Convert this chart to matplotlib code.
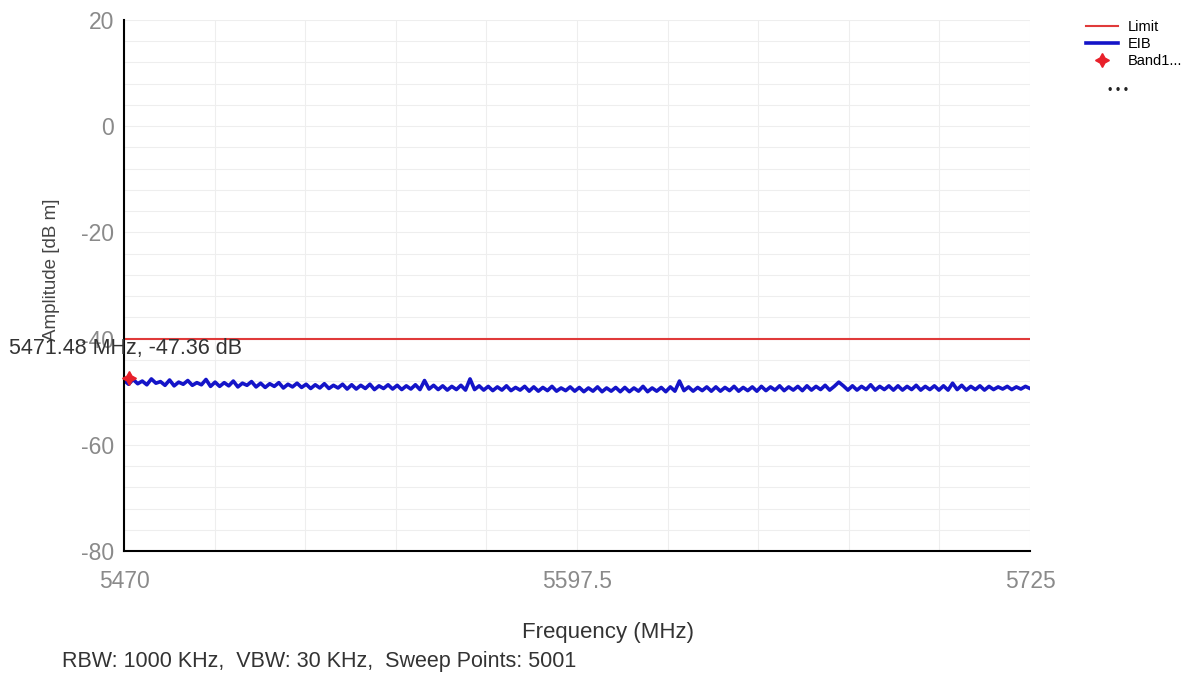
import numpy as np
import matplotlib
import matplotlib.pyplot as plt

matplotlib.rcParams['font.family'] = ['Liberation Sans', 'DejaVu Sans']
matplotlib.rcParams['axes.unicode_minus'] = False

# spectrum trace (dBm), evenly spaced over the span
f_start, f_stop = 5470, 5725
eib = [
    -47.9, -48.6, -47.7, -48.5, -48.0, -48.7, -47.6, -48.4, -48.1, -48.8,
    -47.8, -48.9, -48.2, -48.6, -47.9, -48.8, -48.3, -48.7, -47.7, -49.0,
    -48.2, -49.0, -48.3, -48.9, -48.0, -49.1, -48.4, -48.8, -48.1, -49.1,
    -48.4, -49.2, -48.5, -49.0, -48.3, -49.3, -48.6, -49.1, -48.4, -49.2,
    -48.6, -49.4, -48.7, -49.3, -48.5, -49.4, -48.8, -49.3, -48.6, -49.5,
    -48.7, -49.5, -48.8, -49.4, -48.6, -49.6, -48.9, -49.4, -48.7, -49.5,
    -48.8, -49.6, -48.9, -49.5, -48.7, -49.6, -47.9, -49.5, -48.8, -49.6,
    -48.9, -49.7, -49.0, -49.6, -48.8, -49.7, -47.6, -49.6, -48.9, -49.7,
    -49.0, -49.8, -49.1, -49.7, -48.9, -49.8, -49.2, -49.7, -49.0, -49.9,
    -49.1, -49.9, -49.2, -49.8, -49.0, -49.9, -49.3, -49.8, -49.1, -49.9,
    -49.2, -50.0, -49.3, -49.9, -49.1, -50.0, -49.3, -49.9, -49.2, -50.0,
    -49.2, -50.0, -49.3, -49.9, -49.0, -50.0, -49.3, -49.9, -49.2, -50.0,
    -49.1, -49.9, -48.0, -49.8, -49.1, -49.9, -49.2, -49.8, -49.1, -49.9,
    -49.1, -49.9, -49.2, -49.8, -49.0, -49.9, -49.2, -49.8, -49.1, -49.9,
    -49.0, -49.8, -49.1, -49.7, -48.9, -49.8, -49.1, -49.7, -49.0, -49.8,
    -48.9, -49.7, -49.0, -49.6, -48.8, -49.7, -49.0, -48.2, -48.9, -49.7,
    -48.9, -49.7, -49.0, -49.6, -48.7, -49.7, -49.0, -49.6, -48.9, -49.7,
    -48.9, -49.7, -49.0, -49.6, -48.8, -49.7, -49.0, -49.6, -48.9, -49.7,
    -48.9, -49.7, -48.4, -49.6, -48.8, -49.7, -49.0, -49.6, -48.9, -49.7,
    -49.0, -49.6, -49.1, -49.5, -49.0, -49.6, -49.1, -49.5, -49.0, -49.4,
]
limit = -40
marker_f, marker_a = 5471.48, -47.36
xticks = [5470, 5597.5, 5725]
yticks = [-80, -60, -40, -20, 0, 20]

freq = np.linspace(f_start, f_stop, len(eib))

fig = plt.figure(figsize=(12.02, 6.73), dpi=100)
ax = fig.add_axes([0.1032, 0.1813, 0.7537, 0.789])

ax.set_xlim(f_start, f_stop)
ax.set_ylim(-80, 20)
ax.set_xticks(xticks)
ax.set_xticklabels(["5470", "5597.5", "5725"])
ax.set_yticks(yticks)
ax.set_xticks(np.arange(f_start, f_stop + 1, 25.5), minor=True)
ax.set_yticks(np.arange(-80, 21, 4), minor=True)
ax.grid(which='both', color='#eeeeee', linewidth=0.8)
ax.set_axisbelow(True)
ax.tick_params(which='both', length=0, labelsize=16.5, labelcolor='#8a8a8a', pad=7)
ax.tick_params(axis='x', pad=14)

for s in ['top', 'right']:
    ax.spines[s].set_visible(False)
for s in ['left', 'bottom']:
    ax.spines[s].set_linewidth(1.5)
    ax.spines[s].set_color('black')

l1, = ax.plot([f_start, f_stop], [limit, limit], color='#e03a3a', linewidth=1.5, label='Limit')
l2, = ax.plot(freq, eib, color='#1414c8', linewidth=2.6, label='EIB')
m1, = ax.plot([marker_f], [marker_a], marker=(4, 1, 0), color='#e8202a', markersize=10,
              linestyle='none', label='Band1...', clip_on=False, zorder=5)

ax.annotate('%.2f MHz, %.2f dB' % (marker_f, marker_a), xy=(marker_f, marker_a),
            xytext=(-120, 29), textcoords='offset pixels', fontsize=15.5, color='#333333',
            va='center', ha='left', annotation_clip=False)

ax.set_ylabel('Amplitude [dB m]', fontsize=13.5, color='#444444')
ax.yaxis.set_label_coords(-0.071, 0.53)
ax.set_xlabel('Frequency (MHz)', fontsize=16, color='#333333')
ax.xaxis.set_label_coords(0.534, -0.134)

fig.text(62 / 1202, 1 - 661 / 673, 'RBW: 1000 KHz,  VBW: 30 KHz,  Sweep Points: 5001',
         fontsize=15.5, color='#333333', va='center', ha='left')

fig.legend(handles=[l1, l2, m1], loc='upper left', bbox_to_anchor=(1080 / 1202, 1 - 14 / 673),
           frameon=False, fontsize=10.5, handlelength=2.2, handletextpad=0.7, labelspacing=0.2,
           borderaxespad=0)
fig.text(1118 / 1202, 1 - 91 / 673, '\u2022 \u2022 \u2022', fontsize=9, color='#222222',
         va='center', ha='center')

fig.savefig('out.png', dpi=100)
